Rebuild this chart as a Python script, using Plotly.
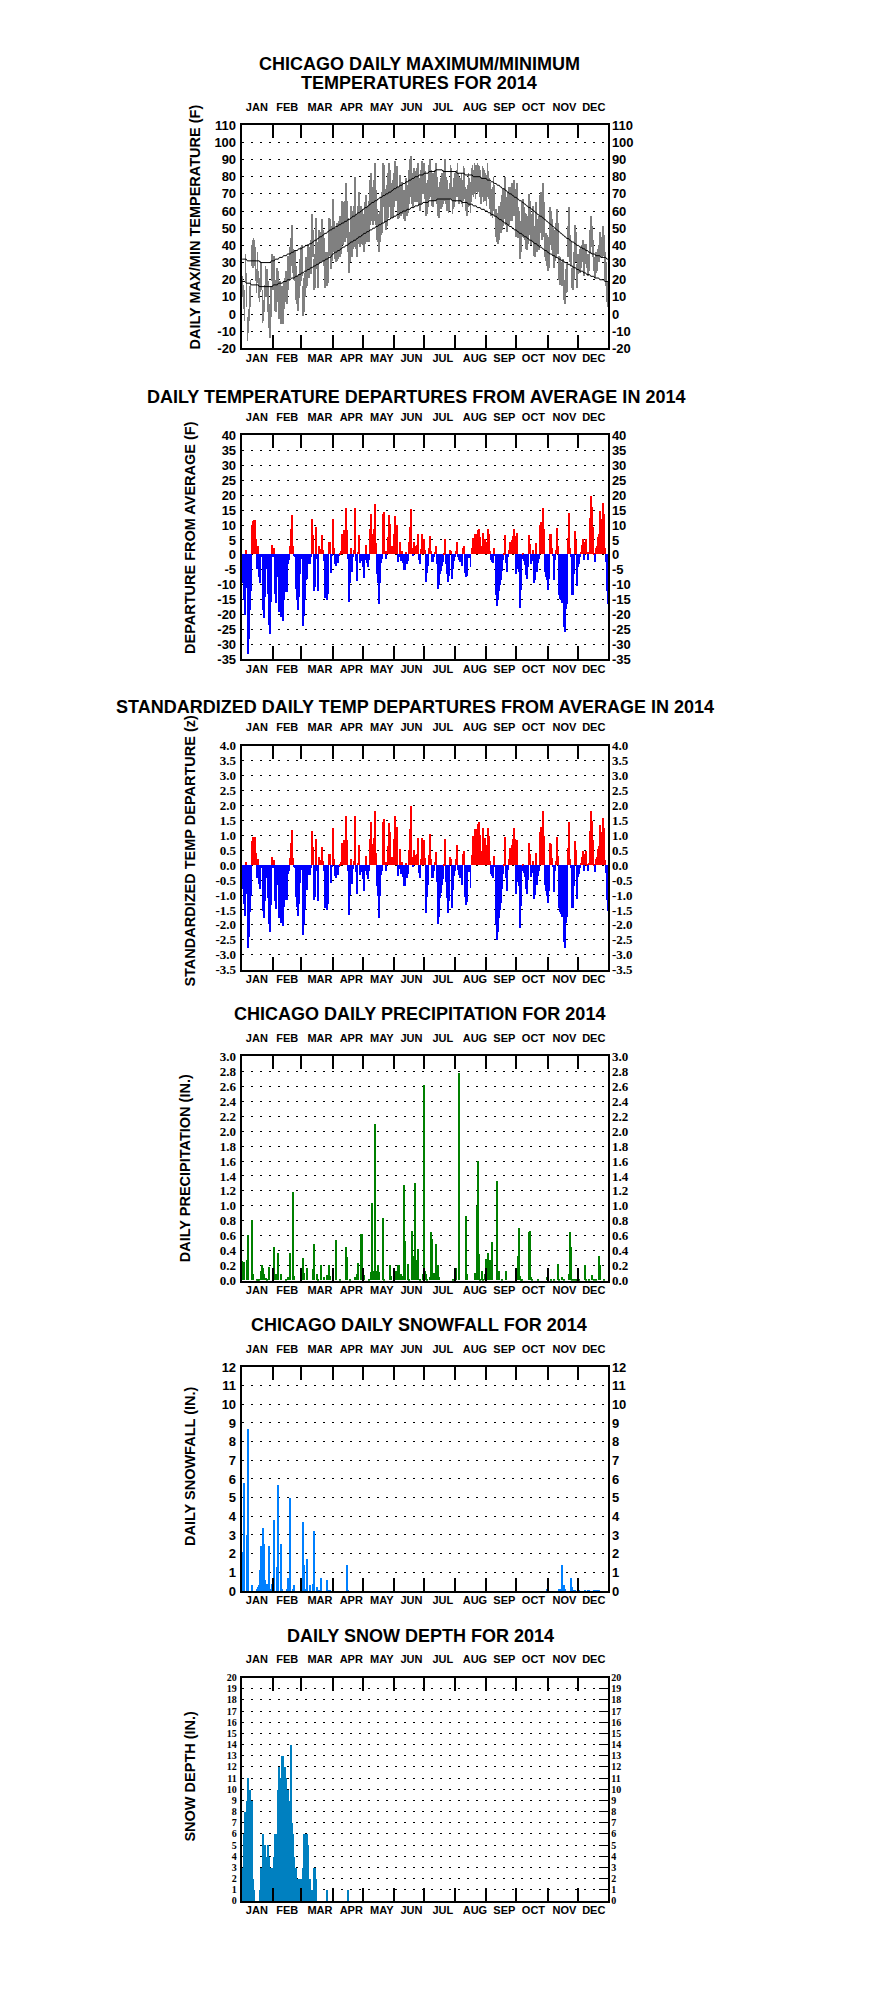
import plotly.graph_objects as go

# ---------------- DATA ----------------
months = ["JAN", "FEB", "MAR", "APR", "MAY", "JUN", "JUL", "AUG", "SEP", "OCT", "NOV", "DEC"]

# daily maximum temperature (F), Jan 1 .. Dec 31 2014
tmax = [
    22,17,14,35,24,-2,3,16,20,40,43,44,43,39,26,36,25,21,31,30,14,8,17,28,26,19,6,6,16,35,32,
    34,20,15,27,25,15,19,15,16,12,19,21,25,22,34,33,39,44,52,38,36,37,28,22,20,23,32,39,
    40,16,21,24,33,32,41,39,37,43,58,49,32,35,56,42,33,49,47,48,55,49,44,35,36,32,36,56,55,44,51,
    67,54,48,50,53,50,54,57,57,66,60,65,66,76,66,56,40,48,63,53,60,63,80,58,51,63,71,59,63,61,
    58,56,65,69,62,60,66,78,82,74,74,78,88,72,61,58,50,60,68,71,88,87,73,71,75,82,88,84,76,76,78,
    82,89,84,86,71,74,81,73,77,72,71,72,79,75,75,84,90,92,82,78,85,83,82,85,88,79,78,84,89,86,
    88,83,71,76,78,87,90,84,81,82,82,84,88,80,71,74,77,79,82,80,84,90,80,78,73,76,87,85,74,79,82,
    83,84,88,82,80,79,82,78,86,85,74,73,75,82,79,77,85,87,84,88,87,87,88,87,86,84,80,86,85,84,82,
    81,88,83,79,77,73,74,80,75,61,56,59,63,63,65,69,73,73,80,68,66,71,74,74,74,76,75,78,73,59,
    76,62,60,46,54,65,67,62,59,58,55,57,70,66,58,58,63,48,51,65,52,55,57,69,71,61,76,65,47,47,46,
    41,45,62,60,55,50,41,49,53,61,53,34,33,30,30,32,20,16,26,29,51,62,46,42,27,28,36,52,48,29,
    35,35,38,39,40,43,36,41,41,35,34,35,49,57,51,43,33,31,36,35,38,40,48,43,45,51,46,36,30,19,14,
]

# daily minimum temperature (F)
tmin = [
    10,3,-4,19,4,-16,-11,-4,4,28,27,27,28,19,12,18,9,7,13,14,-5,-4,1,10,10,1,-8,-14,-2,19,14,
    18,2,1,7,9,-3,5,-6,0,-6,3,7,7,6,14,19,21,28,32,24,20,19,8,6,2,9,16,19,
    22,-1,1,10,15,16,21,21,23,23,34,33,14,15,34,26,15,29,31,30,33,31,28,15,18,16,18,34,35,26,31,
    43,36,32,30,31,32,34,33,35,40,40,43,42,50,44,36,24,30,39,33,38,39,52,38,33,41,47,39,41,41,
    40,36,41,47,42,42,42,52,58,54,52,54,62,52,43,42,36,42,46,47,62,63,53,49,51,56,64,62,56,58,56,
    62,67,66,66,55,56,61,57,59,58,55,54,59,57,59,64,68,78,64,62,65,65,66,65,70,63,60,64,71,70,
    70,67,57,58,62,67,72,68,63,62,66,66,68,64,57,56,61,61,62,64,66,70,64,60,59,60,67,67,58,61,62,
    65,68,68,64,64,65,64,62,66,67,60,57,57,62,63,59,65,69,68,70,67,71,70,71,68,64,64,68,65,66,66,
    63,68,67,61,57,57,56,60,57,45,42,41,43,47,47,49,51,55,60,52,48,51,52,56,54,54,57,58,57,45,
    56,44,44,32,36,45,45,44,43,38,37,41,48,46,40,42,43,34,33,43,36,37,37,47,47,43,50,45,33,31,28,
    25,27,40,40,37,34,27,31,33,39,35,20,17,18,16,16,8,6,12,13,33,40,30,28,15,14,20,32,30,15,
    23,25,24,27,30,31,22,29,31,27,22,25,35,41,39,33,25,21,24,25,30,30,36,33,33,37,34,20,16,7,4,
]

# normal daily maximum (F)
norm_max = [
    32,32,32,32,32,31,31,31,31,31,31,31,31,31,31,31,31,31,30,30,30,30,30,30,30,30,30,30,30,31,31,
    31,31,32,32,32,32,33,33,33,33,34,34,34,34,35,35,35,35,36,36,36,37,37,37,37,38,38,38,
    38,39,39,39,40,40,40,40,41,41,41,42,42,43,43,43,44,44,45,45,45,46,46,47,47,47,48,48,49,49,49,
    50,50,50,51,51,51,52,52,52,53,53,53,54,54,54,55,55,55,56,56,57,57,57,58,58,59,59,59,60,60,
    61,61,62,62,62,63,63,64,64,65,65,65,66,66,66,67,67,68,68,68,69,69,69,70,70,70,71,71,71,72,72,
    73,73,73,74,74,74,75,75,75,76,76,76,77,77,77,78,78,78,79,79,79,80,80,80,80,81,81,81,81,81,
    82,82,82,82,82,83,83,83,83,83,83,83,84,84,84,84,84,84,84,83,83,83,83,83,83,83,83,83,83,83,83,
    83,83,82,82,82,82,82,82,82,82,81,81,81,81,81,81,81,81,80,80,80,80,80,80,80,80,79,79,79,79,79,
    79,78,78,78,78,77,77,77,76,76,76,75,75,75,74,74,73,73,73,72,72,71,71,70,70,70,69,69,68,68,
    68,67,67,66,66,66,65,65,64,64,63,63,62,62,62,61,61,60,60,59,59,58,58,57,57,57,56,56,55,55,54,
    54,53,53,52,52,51,51,50,50,49,49,48,48,47,47,46,46,45,45,44,44,44,43,43,42,42,42,41,41,40,
    40,40,39,39,39,38,38,38,37,37,37,36,36,36,35,35,35,35,34,34,34,34,34,33,33,33,33,33,33,32,32,
]

# normal daily minimum (F)
norm_min = [
    19,19,19,19,18,18,18,18,18,17,17,17,17,17,17,17,17,16,16,16,16,16,16,16,16,16,16,16,16,16,16,
    17,17,17,17,17,18,18,18,18,18,19,19,19,19,20,20,20,20,21,21,21,21,22,22,22,23,23,23,
    24,24,24,25,25,25,26,26,26,27,27,27,28,28,28,29,29,29,30,30,30,31,31,31,32,32,32,33,33,33,34,
    35,35,36,36,36,37,37,37,38,38,39,39,39,40,40,40,41,41,42,42,42,43,43,43,44,44,45,45,45,46,
    46,47,47,47,48,48,48,49,49,49,50,50,50,51,51,51,52,52,52,53,53,53,54,54,54,55,55,55,56,56,56,
    57,57,57,58,58,58,59,59,59,60,60,60,60,61,61,61,61,62,62,62,62,63,63,63,63,64,64,64,64,65,
    65,65,65,65,65,66,66,66,66,66,66,66,66,67,67,67,67,67,67,67,67,67,67,67,67,67,67,67,66,66,66,
    66,66,66,66,66,66,66,65,65,65,65,65,65,64,64,64,64,64,63,63,63,63,62,62,62,62,61,61,61,61,60,
    60,60,59,59,59,58,58,58,57,57,57,56,56,55,55,55,54,54,53,53,53,52,52,51,51,51,50,50,49,49,
    49,48,48,47,47,47,46,46,45,45,45,44,44,43,43,43,42,42,41,41,41,40,40,39,39,39,38,38,37,37,37,
    36,36,35,35,35,34,34,34,33,33,33,32,32,32,31,31,31,30,30,30,29,29,29,28,28,28,27,27,27,26,
    26,26,25,25,25,25,24,24,24,23,23,23,23,22,22,22,22,21,21,21,21,21,20,20,20,20,20,19,19,19,19,
]

# daily departure from average (F)
departure = [
    -9.5,-15.4,-20.4,1.6,-11.3,-33.4,-28.5,-18.7,-12.1,9.7,11.3,11.5,11.5,5,-4.9,2.7,-7.4,-9.5,-0.7,-1,-18.5,-21.2,-14.3,-4.3,-4.9,-13.2,-23.6,-26.7,-16,3.2,-0.8,
    2,-13.2,-16.2,-7.4,-7.2,-19.3,-14,-21,-17.7,-22.4,-15.4,-12.6,-10.4,-12.6,-3.2,-1.9,2.7,8.4,13.2,2.7,-0.2,-1,-11.5,-15.4,-18.5,-14.3,-6.5,-1.6,
    -0.2,-24,-20.7,-15.4,-8.5,-8.4,-2.1,-3.2,-3.2,-1,12,6.4,-12.1,-11,9.3,-1.7,-12.4,2.9,1.8,1.2,6.4,1.4,-2.1,-14.5,-12.1,-15.2,-13.2,4,4,-6.2,-0.2,
    12,2,-3.2,-4,-2,-2.9,-0.5,0.5,1,7,3.7,8.2,7.3,15.6,8.2,-1.6,-15.8,-9.5,2,-6,-1,1.4,15.6,-2.2,-9,0.7,6.6,-2.9,-1,-2.1,
    -4.1,-7.8,-1.8,3.1,-2.9,-4.3,-1.8,8.4,13.6,6.8,5.3,8.6,17,3.8,-6.5,-9.5,-16.5,-9.5,-2.9,-1.6,13.7,14.3,1,-1.6,1,6,13.2,10.3,2.3,2.7,2.7,
    6.8,12.8,9.9,9.9,-2.7,-1,4.2,-2.1,1,-2.9,-5.2,-5.2,0.7,-3.2,-2.1,4,9.3,15.3,2.1,-0.2,4,2.3,2.7,3.1,7,-1.9,-3.2,1.7,7,5,
    5,1.4,-9.3,-6.2,-3.8,2.1,6.2,1.2,-2.4,-2.4,-1,0.7,2.7,-3.2,-11.5,-10.2,-6.5,-5.4,-3.8,-2.7,0.3,5.3,-3.2,-6.5,-9.3,-7.1,1.6,1.2,-8.4,-4.9,-2.1,
    -1,1.2,4,-0.8,-1.9,-2.4,-0.8,-3.8,2.3,2.7,-6.2,-7.6,-7.1,-1,-1.2,-4.3,2.1,5.6,4,7,5.6,7,8.1,8.4,6,2.9,2,7.3,5.1,5.3,4,
    2,8.6,6.8,1,-1.9,-2.4,-3,2.3,-0.2,-13.7,-17.3,-15.4,-12.1,-10.2,-8.7,-5.4,-1.9,0.3,6.5,-3,-6,-1,1.4,4,3.7,4.8,6.2,8.6,6.2,-6.5,
    7.3,-4.9,-6,-17.9,-11.8,-1.6,0.3,-2.1,-3.4,-6.9,-8.2,-4.3,6.4,3.4,-3.2,-2.1,1.4,-9.6,-8.5,3.7,-5.8,-3,-1.6,9.7,11,3.7,15.6,8.4,-5.8,-7.4,-8.7,
    -11.8,-8.2,7,6.8,2.3,-0.2,-8.5,-1.9,1.4,9,2.9,-13.5,-14.8,-15.4,-16.2,-14.8,-24.3,-26.1,-18.2,-16.5,5.6,14,2,-0.8,-13.7,-13.7,-6.5,7.9,4.8,-10.7,
    -4.3,-3.2,-0.8,0.9,3.1,5.3,-1.8,4,5.3,0.7,-1.9,0.9,12.3,19.5,16,9.2,0.3,-2.4,2.3,2.9,6,7,14.7,11.7,12,17.3,13.6,2.1,-2.7,-12.4,-16.5,
]

# standardized daily departure (z)
std_departure = [
    -0.79,-1.28,-1.70,0.13,-0.94,-2.78,-2.38,-1.56,-1.01,0.81,0.94,0.96,0.96,0.42,-0.41,0.23,-0.62,-0.79,-0.06,-0.08,-1.54,-1.77,-1.19,-0.36,-0.41,-1.10,-1.97,-2.23,-1.33,0.27,-0.07,
    0.18,-1.20,-1.47,-0.67,-0.65,-1.75,-1.27,-1.91,-1.61,-2.04,-1.40,-1.15,-0.95,-1.15,-0.29,-0.17,0.25,0.76,1.20,0.25,-0.02,-0.09,-1.05,-1.40,-1.68,-1.30,-0.59,-0.15,
    -0.02,-2.33,-2.01,-1.50,-0.83,-0.82,-0.20,-0.31,-0.31,-0.10,1.17,0.62,-1.17,-1.07,0.90,-0.17,-1.20,0.28,0.17,0.12,0.62,0.14,-0.20,-1.41,-1.17,-1.48,-1.28,0.39,0.39,-0.60,-0.02,
    1.26,0.21,-0.34,-0.42,-0.21,-0.31,-0.05,0.05,0.11,0.74,0.39,0.86,0.77,1.64,0.86,-0.17,-1.66,-1.00,0.21,-0.63,-0.11,0.15,1.64,-0.23,-0.95,0.07,0.69,-0.31,-0.11,-0.22,
    -0.44,-0.84,-0.19,0.33,-0.31,-0.46,-0.19,0.90,1.46,0.73,0.57,0.92,1.83,0.41,-0.70,-1.02,-1.77,-1.02,-0.31,-0.17,1.47,1.54,0.11,-0.17,0.11,0.65,1.42,1.11,0.25,0.29,0.29,
    0.88,1.66,1.29,1.29,-0.35,-0.13,0.55,-0.27,0.13,-0.38,-0.68,-0.68,0.09,-0.42,-0.27,0.52,1.21,1.99,0.27,-0.03,0.52,0.30,0.35,0.40,0.91,-0.25,-0.42,0.22,0.91,0.65,
    0.85,0.24,-1.58,-1.05,-0.64,0.36,1.05,0.20,-0.41,-0.41,-0.17,0.12,0.46,-0.54,-1.95,-1.73,-1.10,-0.92,-0.64,-0.46,0.05,0.90,-0.54,-1.10,-1.58,-1.20,0.27,0.20,-1.42,-0.83,-0.36,
    -0.17,0.21,0.69,-0.14,-0.33,-0.41,-0.14,-0.66,0.40,0.47,-1.07,-1.31,-1.22,-0.17,-0.21,-0.74,0.36,0.97,0.69,1.21,0.97,1.21,1.40,1.45,1.03,0.50,0.34,1.26,0.88,0.91,0.69,
    0.29,1.25,0.99,0.14,-0.28,-0.35,-0.43,0.33,-0.03,-1.99,-2.51,-2.23,-1.75,-1.48,-1.26,-0.78,-0.28,0.04,0.94,-0.43,-0.87,-0.14,0.20,0.58,0.54,0.70,0.90,1.25,0.90,-0.94,
    0.85,-0.57,-0.70,-2.08,-1.37,-0.19,0.03,-0.24,-0.40,-0.80,-0.95,-0.50,0.74,0.40,-0.37,-0.24,0.16,-1.12,-0.99,0.43,-0.67,-0.35,-0.19,1.13,1.28,0.43,1.81,0.98,-0.67,-0.86,-1.01,
    -1.24,-0.86,0.74,0.72,0.24,-0.02,-0.89,-0.20,0.15,0.95,0.31,-1.42,-1.56,-1.62,-1.71,-1.56,-2.56,-2.75,-1.92,-1.74,0.59,1.47,0.21,-0.08,-1.44,-1.44,-0.68,0.83,0.51,-1.13,
    -0.40,-0.30,-0.07,0.08,0.29,0.49,-0.17,0.37,0.49,0.06,-0.18,0.08,1.14,1.81,1.48,0.85,0.03,-0.22,0.21,0.27,0.56,0.65,1.36,1.08,1.11,1.60,1.26,0.19,-0.25,-1.15,-1.53,
]

# daily precipitation (in.) - day of year and amount (only days with precipitation)
precip_day = [1,2,5,6,10,11,15,16,17,19,20,21,22,24,25,27,31,32,34,35,36,39,44,46,48,51,52,61,62,65,
              71,72,75,76,79,82,85,87,88,94,98,104,105,108,113,115,116,119,120,122,127,129,130,131,132,133,134,135,136,137,
              141,142,148,149,154,156,157,159,160,162,163,166,167,170,171,172,173,174,176,178,181,182,183,184,185,188,189,190,192,194,
              195,196,197,211,214,217,224,225,232,234,235,236,237,239,240,242,243,244,245,247,248,249,254,256,259,263,273,275,276,277,
              278,279,286,287,288,289,295,304,308,311,315,316,319,321,326,327,328,329,331,333,334,336,342,343,346,349,351,353,356,357,361]
precip_in = [0.26,0.24,0.27,0.61,0.81,0.08,0.02,0.02,0.02,0.13,0.20,0.17,0.08,0.03,0.02,0.18,0.02,0.45,0.08,0.08,0.37,0.09,0.02,0.05,0.37,1.18,0.06,0.30,0.10,0.17,
             0.15,0.49,0.08,0.02,0.20,0.04,0.07,0.20,0.06,0.54,0.02,0.45,0.31,0.02,0.04,0.08,0.23,0.62,0.62,0.07,0.02,0.11,1.04,0.13,0.13,2.09,0.13,0.11,0.20,0.11,
             0.83,0.02,0.20,0.06,0.13,0.20,0.20,0.08,0.06,1.27,0.53,0.22,0.02,0.66,0.33,0.24,1.30,0.27,0.42,0.02,0.08,2.61,0.12,0.09,0.02,0.05,0.64,0.55,0.10,0.49,
             0.08,0.20,0.05,0.02,0.17,2.77,0.86,0.08,0.10,0.99,1.59,0.35,0.02,0.13,0.02,0.09,0.29,0.10,0.37,0.27,0.13,0.51,1.33,0.13,0.02,0.12,0.03,0.33,0.70,0.06,
             0.02,0.02,0.64,0.66,0.04,0.02,0.01,0.05,0.01,0.01,0.22,0.02,0.05,0.02,0.08,0.65,0.45,0.02,0.02,0.01,0.01,0.02,0.21,0.01,0.02,0.07,0.02,0.02,0.33,0.20,0.02]

# daily snowfall (in.)
snow_day = [1,2,5,6,10,15,16,17,18,19,21,22,23,24,25,27,28,30,31,32,35,36,39,40,45,46,48,51,52,61,
            62,64,65,68,71,72,75,76,78,79,85,87,88,105,106,304,316,317,318,319,320,321,322,328,329,330,332,336,342,345,
            346,351,353,354,355,356]
snow_in = [2.1,5.8,3.0,8.7,0.3,0.1,0.2,0.3,1.1,2.4,3.4,2.5,0.6,0.1,0.4,2.4,0.1,0.4,0.2,3.8,1.3,5.7,2.5,0.1,0.1,0.7,5.0,0.1,0.3,3.7,
           1.4,0.1,1.7,0.3,0.4,3.2,0.2,0.05,0.05,0.7,0.6,0.05,0.05,1.4,0.05,0.1,0.1,0.1,0.1,1.4,0.2,0.3,0.1,0.7,0.2,0.05,0.05,0.05,0.05,0.05,
           0.05,0.05,0.05,0.05,0.05,0.05]

# daily snow depth (in.), Jan 1 .. Apr 16 (zero afterwards)
snow_depth = [3,6,8,7,9,11,10,10,9,9,2,1,0,0,0,0,0,1,3,1,6,5,5,4,4,5,4,3,3,3,3,
              4,6,6,6,10,12,11,11,13,13,12,12,11,9,10,9,9,14,7,6,4,3,3,2,2,2,2,2,
              2,3,6,6,5,6,5,2,2,1,1,0,3,3,2,0,0,0,0,0,0,0,0,0,0,1,0,0,0,0,0,
              0,0,0,0,0,0,0,0,0,0,0,0,0,0,0,1]

# ---------------- LAYOUT HELPERS ----------------
# the page body has an 8px margin, so the figure is drawn 8px smaller and
# every reference pixel position is shifted by that margin
OFF = 8
W, H = 883 - OFF, 1989 - OFF
X_LEFT, X_RIGHT = 241.7, 608.3
panel_px = [(119, 344), (431.7, 657.3), (744.3, 970), (1057.3, 1283.3), (1370.3, 1596), (1683.3, 1908.3)]
label_pos = [15.6, 45.9, 78.4, 109.6, 140, 169.5, 200.7, 232.7, 262, 291, 321.8, 351]
month_start = [32, 60, 91, 121, 152, 182, 213, 244, 274, 305, 335]
SANS = "Liberation Sans, Arial, sans-serif"
SERIF = "Liberation Serif, Times New Roman, serif"
LW = 2


def px(v):
    return (v - OFF) / W


def py(v):
    return 1 - (v - OFF) / H


xdom = [px(X_LEFT), px(X_RIGHT)]


def ydom(i):
    top, bot = panel_px[i]
    return [py(bot), py(top)]


def ref(p, n):
    return p if n == 1 else f"{p}{n}"


def lname(p, n):
    return f"{p}axis" if n == 1 else f"{p}axis{n}"


def frange(a, b, s):
    out = []
    k = 0
    while a + k * s <= b + 1e-9:
        out.append(round(a + k * s, 4))
        k += 1
    return out


yspecs = [
    dict(r=[-20, 110], vals=frange(-20, 110, 10), fmt="{:.0f}", fam=SANS, size=13),
    dict(r=[-35, 40], vals=frange(-35, 40, 5), fmt="{:.0f}", fam=SANS, size=13),
    dict(r=[-3.5, 4.0], vals=frange(-3.5, 4.0, 0.5), fmt="{:.1f}", fam=SERIF, size=13),
    dict(r=[0, 3.0], vals=frange(0, 3.0, 0.2), fmt="{:.1f}", fam=SERIF, size=13),
    dict(r=[0, 12], vals=frange(0, 12, 1), fmt="{:.0f}", fam=SANS, size=13),
    dict(r=[0, 20], vals=frange(0, 20, 1), fmt="{:.0f}", fam=SERIF, size=10),
]

days = list(range(1, len(tmax) + 1))
fig = go.Figure()

# panel 1: daily max/min range + normals
fig.add_trace(go.Bar(x=days, y=[a - b for a, b in zip(tmax, tmin)], base=tmin, width=0.8,
                     marker=dict(color="#808080", line=dict(width=0)), xaxis="x", yaxis="y"))
fig.add_trace(go.Scatter(x=list(range(1, len(norm_max) + 1)), y=norm_max, mode="lines",
                         line=dict(color="black", width=1), xaxis="x", yaxis="y"))
fig.add_trace(go.Scatter(x=list(range(1, len(norm_min) + 1)), y=norm_min, mode="lines",
                         line=dict(color="black", width=1), xaxis="x", yaxis="y"))
# panel 2: departures
fig.add_trace(go.Bar(x=list(range(1, len(departure) + 1)), y=departure, width=1,
                     marker=dict(color=["#FF0000" if v > 0 else "#0000FF" for v in departure], line=dict(width=0)),
                     xaxis="x3", yaxis="y3"))
# panel 3: standardized departures
fig.add_trace(go.Bar(x=list(range(1, len(std_departure) + 1)), y=std_departure, width=1,
                     marker=dict(color=["#FF0000" if v > 0 else "#0000FF" for v in std_departure], line=dict(width=0)),
                     xaxis="x5", yaxis="y5"))
# panel 4: precipitation
fig.add_trace(go.Bar(x=precip_day, y=precip_in, width=1,
                     marker=dict(color="#008000", line=dict(width=0)), xaxis="x7", yaxis="y7"))
# panel 5: snowfall
fig.add_trace(go.Bar(x=snow_day, y=snow_in, width=1,
                     marker=dict(color="#0080FF", line=dict(width=0)), xaxis="x9", yaxis="y9"))
# panel 6: snow depth
fig.add_trace(go.Bar(x=list(range(1, len(snow_depth) + 1)), y=snow_depth, width=1,
                     marker=dict(color="#0080C0", line=dict(width=0)), xaxis="x11", yaxis="y11"))

layout = dict(width=W, height=H, margin=dict(l=0, r=0, t=0, b=0), autosize=False,
              paper_bgcolor="white", plot_bgcolor="white", showlegend=False, bargap=0)

xfont = dict(family=SANS, size=11, color="black", weight="bold")
minor = dict(tickmode="array", tickvals=month_start, ticks="inside", ticklen=13,
             tickwidth=LW, tickcolor="black", showgrid=False)

for i in range(6):
    xb, xt = 2 * i + 1, 2 * i + 2
    yl, yr = 2 * i + 1, 2 * i + 2
    spec = yspecs[i]
    ttext = [spec["fmt"].format(v) for v in spec["vals"]]
    yfont = dict(family=spec["fam"], size=spec["size"], color="black", weight="bold")
    common_x = dict(range=[0.5, 365.5], tickmode="array", tickvals=label_pos, ticktext=months,
                    ticks="", showline=True, linecolor="black", linewidth=LW, showgrid=False,
                    zeroline=False, tickfont=xfont, minor=minor, fixedrange=True)
    layout[lname("x", xb)] = dict(domain=xdom, anchor=ref("y", yl), side="bottom",
                                  ticklabelstandoff=-2, **common_x)
    layout[lname("x", xt)] = dict(overlaying=ref("x", xb), anchor=ref("y", yr), side="top",
                                  ticklabelstandoff=8, **common_x)
    common_y = dict(range=spec["r"], tickmode="array", tickvals=spec["vals"], ticktext=ttext,
                    showline=True, linecolor="black", linewidth=LW, zeroline=False,
                    tickfont=yfont, fixedrange=True)
    layout[lname("y", yl)] = dict(domain=ydom(i), anchor=ref("x", xb), side="left", ticks="",
                                  showgrid=True, gridcolor="black", gridwidth=1, griddash="2px,7px",
                                  ticklabelstandoff=1, **common_y)
    right = dict(overlaying=ref("y", yl), anchor=ref("x", xt), side="right", showgrid=False,
                 ticklabelstandoff=-1, **common_y)
    if i == 5:
        right.update(ticks="inside", ticklen=9, tickwidth=1, tickcolor="black")
    else:
        right.update(ticks="")
    layout[lname("y", yr)] = right
    # placeholder trace so the top / right axes are drawn
    fig.add_trace(go.Scatter(x=[], y=[], xaxis=ref("x", xt), yaxis=ref("y", yr),
                             showlegend=False, hoverinfo="skip"))

tfont = dict(family=SANS, size=18, color="black", weight="bold")
afont = dict(family=SANS, size=14.5, color="black", weight="bold")
titles = [
    ("CHICAGO DAILY MAXIMUM/MINIMUM", 419, 57),
    ("TEMPERATURES FOR 2014", 419, 77),
    ("DAILY TEMPERATURE DEPARTURES FROM AVERAGE IN 2014", 416, 393),
    ("STANDARDIZED DAILY TEMP DEPARTURES FROM AVERAGE IN 2014", 415, 705),
    ("CHICAGO DAILY PRECIPITATION FOR 2014", 419, 1015),
    ("CHICAGO DAILY SNOWFALL FOR 2014", 419, 1328),
    ("DAILY SNOW DEPTH FOR 2014", 420, 1641),
]
ytitles = [
    ("DAILY MAX/MIN TEMPERATURE (F)", 195, 222),
    ("DEPARTURE FROM AVERAGE (F)", 190, 535),
    ("STANDARDIZED TEMP DEPARTURE (z)", 190, 850),
    ("DAILY PRECIPITATION (IN.)", 185, 1170),
    ("DAILY SNOWFALL (IN.)", 190, 1471),
    ("SNOW DEPTH (IN.)", 190, 1783),
]
ann = []
for t, x, y in titles:
    ann.append(dict(text=t, x=px(x), y=py(y), xref="paper", yref="paper", showarrow=False,
                    xanchor="center", yanchor="middle", font=tfont))
for t, x, y in ytitles:
    ann.append(dict(text=t, x=px(x), y=py(y), xref="paper", yref="paper", showarrow=False,
                    xanchor="center", yanchor="middle", textangle=-90, font=afont))
layout["annotations"] = ann

fig.update_layout(**layout)
fig.write_html("out.html")
